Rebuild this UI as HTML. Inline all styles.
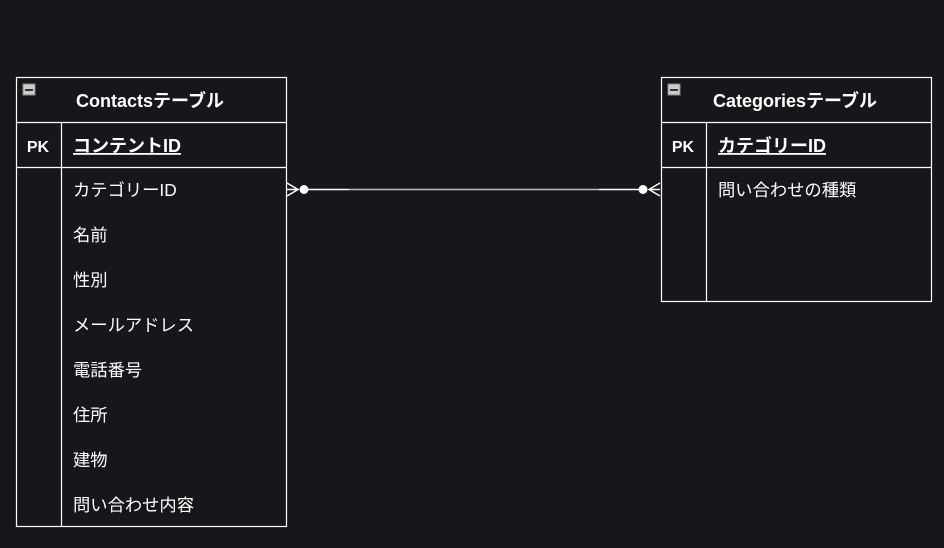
<!DOCTYPE html>
<html><head><meta charset="utf-8"><style>
body{margin:0;background:#18161b;}
svg{display:block}
text{font-family:"Liberation Sans","Noto Sans CJK JP",sans-serif;fill:#fff;font-size:17.3px}
.b{font-weight:bold}
.h{font-size:18px}
</style></head><body>
<svg width="944" height="548" viewBox="0 0 944 548">
<rect width="944" height="548" fill="#18161b"/>
<g stroke="#fff" stroke-width="1.2" fill="none">
<rect x="16.5" y="77.5" width="270" height="449"/>
<line x1="16" y1="122.5" x2="286" y2="122.5"/>
<line x1="16" y1="167.5" x2="286" y2="167.5"/>
<line x1="61.5" y1="122" x2="61.5" y2="527"/>
<rect x="661.5" y="77.5" width="270" height="224"/>
<line x1="661" y1="122.5" x2="931" y2="122.5"/>
<line x1="661" y1="167.5" x2="931" y2="167.5"/>
<line x1="706.5" y1="122" x2="706.5" y2="302"/>
</g>
<rect x="23" y="84" width="12" height="11" fill="#ccc" stroke="#888"/>
<rect x="25" y="89" width="8" height="2" fill="#333"/>
<rect x="668" y="84" width="12" height="11" fill="#ccc" stroke="#888"/>
<rect x="670" y="89" width="8" height="2" fill="#333"/>
<text x="150" y="107" text-anchor="middle" class="b h">Contactsテーブル</text>
<text x="795" y="107" text-anchor="middle" class="b h">Categoriesテーブル</text>
<text x="38" y="152" text-anchor="middle" class="b" style="font-size:16px">PK</text>
<text x="683" y="152" text-anchor="middle" class="b" style="font-size:16px">PK</text>
<text x="73" y="152" class="b h" text-decoration="underline">コンテントID</text>
<text x="718" y="152" class="b h" text-decoration="underline">カテゴリーID</text>
<text x="73" y="196">カテゴリーID</text>
<text x="73" y="241">名前</text>
<text x="73" y="286">性別</text>
<text x="73" y="331">メールアドレス</text>
<text x="73" y="376">電話番号</text>
<text x="73" y="421">住所</text>
<text x="73" y="466">建物</text>
<text x="73" y="511">問い合わせ内容</text>
<text x="718" y="196">問い合わせの種類</text>
<g stroke="#fff" stroke-width="1.5" fill="none">
<line x1="304" y1="189.5" x2="349" y2="189.5"/>
<line x1="599" y1="189.5" x2="643" y2="189.5"/>
<line x1="349" y1="189.5" x2="599" y2="189.5" stroke="#bbb"/>
<polyline points="287,183 298,189.5 287,196"/>
<line x1="287" y1="189.5" x2="298" y2="189.5"/>
<polyline points="660,183 649,189.5 660,196"/>
<line x1="649" y1="189.5" x2="660" y2="189.5"/>
</g>
<circle cx="304" cy="189.5" r="4.5" fill="#fff"/>
<circle cx="643" cy="189.5" r="4.5" fill="#fff"/>
</svg>
</body></html>
